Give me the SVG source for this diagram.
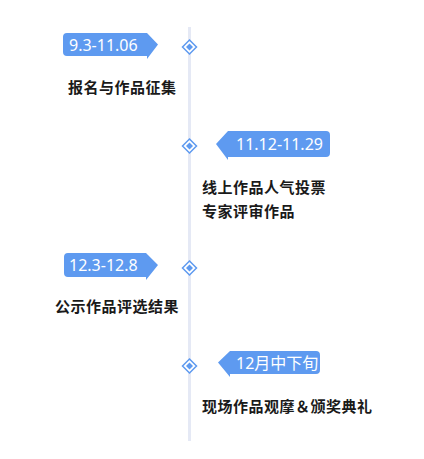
<svg xmlns="http://www.w3.org/2000/svg" width="424" height="459" viewBox="0 0 424 459">
<style>
.badge{fill:#5e9af0}
.bt{font-family:"Noto Sans","Noto Sans CJK SC",sans-serif;font-size:16px;fill:#fff}
.lb{font-family:"Noto Sans CJK SC",sans-serif;font-size:15px;font-weight:bold;fill:#1a1a1a;letter-spacing:0.5px}
.dia{fill:#fff;stroke:#5e9af0;stroke-width:1.5}
.dot{fill:#5e9af0}
</style>
<rect width="424" height="459" fill="#fff"/>
<g id="connectors">
<rect x="188" y="27" width="3" height="414" fill="#e5e9f5"/>
</g>
<g id="node1">
<path class="badge" d="M67,33 H147 L158,44.5 L147,59 V56 H67 Q63,56 63,52 V37 Q63,33 67,33 Z"/>
<text class="bt" x="69" y="50.5">9.3-11.06</text>
<path class="dia" d="M189.5,40 L196.5,47 L189.5,54 L182.5,47 Z"/>
<path class="dot" d="M189.5,43.5 L193,47 L189.5,50.5 L186,47 Z"/>
<text class="lb" x="68" y="93">报名与作品征集</text>
</g>
<g id="node2">
<path class="badge" d="M326,131 H228 L216,144 L228,160 V157 H326 Q330,157 330,153 V135 Q330,131 326,131 Z"/>
<text class="bt" x="236" y="150">11.12-11.29</text>
<path class="dia" d="M189.5,139 L196.5,146 L189.5,153 L182.5,146 Z"/>
<path class="dot" d="M189.5,142.5 L193,146 L189.5,149.5 L186,146 Z"/>
<text class="lb" x="202" y="193">线上作品人气投票</text>
<text class="lb" x="202" y="217">专家评审作品</text>
</g>
<g id="node3">
<path class="badge" d="M68,253 H146 L158,265 L146,280 V277 H68 Q64,277 64,273 V257 Q64,253 68,253 Z"/>
<text class="bt" x="69" y="270.5">12.3-12.8</text>
<path class="dia" d="M189.5,261 L196.5,268 L189.5,275 L182.5,268 Z"/>
<path class="dot" d="M189.5,264.5 L193,268 L189.5,271.5 L186,268 Z"/>
<text class="lb" x="55" y="312">公示作品评选结果</text>
</g>
<g id="node4">
<path class="badge" d="M316,351 H230 L218,362.5 L230,377 V374 H316 Q320,374 320,370 V355 Q320,351 316,351 Z"/>
<text class="bt" x="236" y="368.5">12月中下旬</text>
<path class="dia" d="M189.5,359 L196.5,366 L189.5,373 L182.5,366 Z"/>
<path class="dot" d="M189.5,362.5 L193,366 L189.5,369.5 L186,366 Z"/>
<text class="lb" x="202" y="412">现场作品观摩＆颁奖典礼</text>
</g>
</svg>
